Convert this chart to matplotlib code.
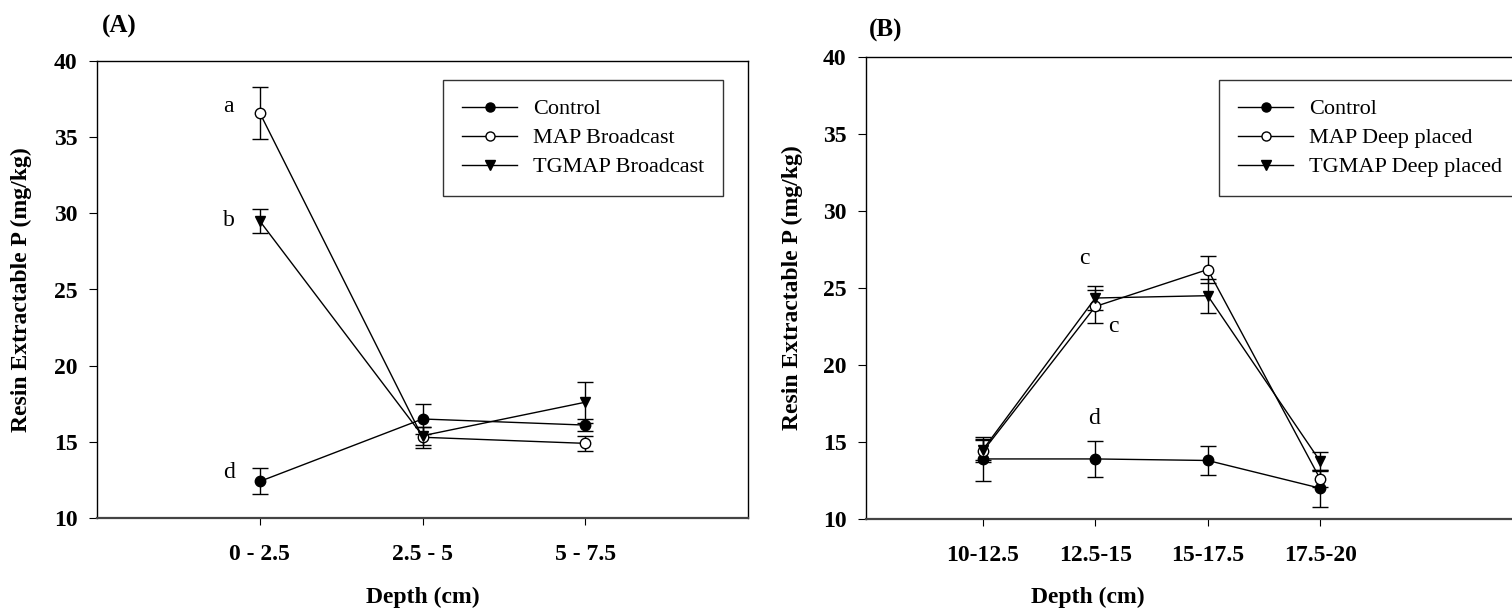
import matplotlib
matplotlib.use('Agg')
import matplotlib.pyplot as plt
from matplotlib.lines import Line2D

plt.rcParams['font.family'] = ['Liberation Serif', 'DejaVu Serif']

# panel A: broadcast
depth_a = ['0 - 2.5', '2.5 - 5', '5 - 7.5']
ctrl_a = [12.4, 16.5, 16.1]
ctrl_a_err = [0.85, 1.0, 0.4]
map_a = [36.6, 15.3, 14.9]
map_a_err = [1.7, 0.7, 0.5]
tg_a = [29.5, 15.4, 17.6]
tg_a_err = [0.8, 0.6, 1.35]
letters_a = [('a', 37.0), ('b', 29.5), ('d', 13.0)]

# panel B: deep placed
depth_b = ['10-12.5', '12.5-15', '15-17.5', '17.5-20']
ctrl_b = [13.9, 13.9, 13.8, 12.0]
ctrl_b_err = [1.4, 1.15, 0.95, 1.2]
map_b = [14.4, 23.8, 26.2, 12.6]
map_b_err = [0.7, 1.1, 0.85, 0.5]
tg_b = [14.5, 24.35, 24.5, 13.75]
tg_b_err = [0.7, 0.75, 1.1, 0.6]

W, H = 1512, 611
FS = 17
fig = plt.figure(figsize=(W / 100, H / 100), dpi=100)

axA = fig.add_axes([97 / W, (H - 518) / H, 651 / W, 457 / H])
axB = fig.add_axes([866 / W, (H - 519) / H, 679 / W, 462 / H])

styles = [dict(marker='o', mfc='black'),
          dict(marker='o', mfc='white'),
          dict(marker='v', mfc='black')]


def draw(ax, cats, series):
    x = list(range(1, len(cats) + 1))
    for (y, e), st in zip(series, styles):
        ax.errorbar(x, y, yerr=e, color='black', lw=1, elinewidth=1,
                    capsize=6, capthick=1, mec='black', ms=7.5, **st)
    ax.set_xticks(x)
    ax.set_xticklabels(cats, fontweight='bold', fontsize=FS)
    ax.set_ylim(10, 40)
    ax.set_yticks([10, 15, 20, 25, 30, 35, 40])
    ax.set_yticklabels(['10', '15', '20', '25', '30', '35', '40'],
                       fontweight='bold', fontsize=FS)
    ax.tick_params(axis='x', direction='out', length=5, pad=14)
    ax.tick_params(axis='y', direction='out', length=6, pad=8)
    for sp in ax.spines.values():
        sp.set_linewidth(1)
    ax.spines['bottom'].set_linewidth(1.6)
    ax.spines['bottom'].set_color('#444444')


def legend(names, anchor):
    handles = [Line2D([], [], color='black', lw=1, mec='black', ms=6.5, **st)
               for st in styles]
    leg = fig.legend(handles, names, loc='upper left', bbox_to_anchor=anchor, fontsize=16,
                     frameon=True, fancybox=False, edgecolor='black',
                     handlelength=2.5, handletextpad=0.7, borderpad=0.85,
                     labelspacing=0.38, borderaxespad=0)
    leg.get_frame().set_linewidth(1)
    return leg


draw(axA, depth_a, [(ctrl_a, ctrl_a_err), (map_a, map_a_err), (tg_a, tg_a_err)])
axA.set_xlim(0, 4)
axA.set_ylabel('Resin Extractable P (mg/kg)', fontweight='bold', fontsize=FS)
axA.yaxis.set_label_coords(-0.1, 0.5)
for txt, yv in letters_a:
    axA.text(0.81, yv, txt, fontsize=FS, ha='center', va='center')
legend(['Control', 'MAP Broadcast', 'TGMAP Broadcast'], (443 / W, 1 - 80 / H))

draw(axB, depth_b, [(ctrl_b, ctrl_b_err), (map_b, map_b_err), (tg_b, tg_b_err)])
axB.set_xlim(-0.04, 6.0)
axB.spines['right'].set_visible(False)
axB.set_ylabel('Resin Extractable P (mg/kg)', fontweight='bold', fontsize=FS)
axB.yaxis.set_label_coords(-0.093, 0.5)
axB.text(1.9, 26.9, 'c', fontsize=FS, ha='center', va='center')
axB.text(2.16, 22.5, 'c', fontsize=FS, ha='center', va='center')
axB.text(1.99, 16.5, 'd', fontsize=FS, ha='center', va='center')
legend(['Control', 'MAP Deep placed', 'TGMAP Deep placed'], (1219 / W, 1 - 80 / H))

fig.text(423 / W, 1 - 597 / H, 'Depth (cm)', fontweight='bold', fontsize=FS,
         ha='center', va='center')
fig.text(1088 / W, 1 - 597 / H, 'Depth (cm)', fontweight='bold', fontsize=FS,
         ha='center', va='center')
fig.text(119 / W, 1 - 26 / H, '(A)', fontweight='bold', fontsize=18, ha='center', va='center')
fig.text(886 / W, 1 - 30 / H, '(B)', fontweight='bold', fontsize=18, ha='center', va='center')

fig.savefig('out.png', dpi=100)
